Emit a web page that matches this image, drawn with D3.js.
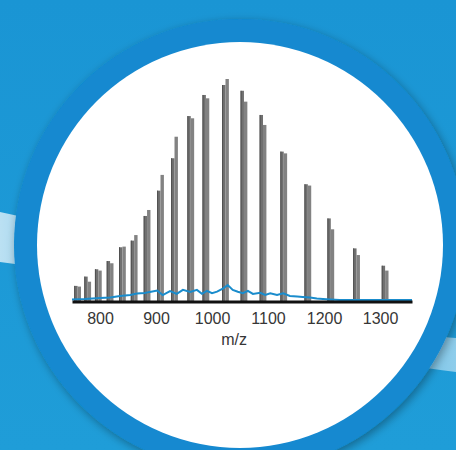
<!DOCTYPE html>
<html>
<head>
<meta charset="utf-8">
<script src="https://cdn.jsdelivr.net/npm/d3@7"></script>
<style>
  body { margin: 0; padding: 0; overflow: hidden; }
  #chart { width: 456px; height: 450px; }
</style>
</head>
<body>
<div id="chart"></div>
<script>
// peak m/z (centre of each pair) and the two sub-bar intensities (% of base peak)
var peakMz = [760, 778, 797, 818, 840, 861, 884, 908, 933, 962, 989, 1024, 1057, 1091, 1128, 1171, 1212, 1258, 1309]
var leftInt = [6.8, 11.0, 14.3, 18.0, 24.2, 27.2, 38.3, 49.7, 64.3, 83.3, 92.8, 97.3, 94.7, 83.8, 67.3, 52.6, 37.2, 23.7, 15.9]
var rightInt = [6.5, 8.7, 13.7, 17.0, 24.5, 29.7, 41.0, 56.8, 74.0, 82.3, 91.3, 100, 89.8, 79.3, 66.5, 52.0, 32.3, 20.7, 13.7]

// blue trace (m/z, intensity)
var traceMz = [750, 773, 800, 818, 836, 854, 866, 880, 889, 902, 912, 925, 937, 948, 961, 973, 982, 991, 1000, 1009, 1020, 1028, 1037, 1046, 1055, 1064, 1073, 1086, 1095, 1104, 1116, 1127, 1139, 1152, 1162, 1175, 1187, 1198, 1211, 1228, 1357]
var traceInt = [0.7, 0.9, 1.4, 1.6, 2.3, 2.7, 3.4, 3.6, 4.1, 4.7, 2.7, 4.5, 3.2, 5.0, 4.1, 5.0, 3.2, 4.6, 3.5, 4.2, 5.7, 7.2, 5.0, 4.2, 3.5, 4.6, 3.2, 3.7, 2.7, 3.5, 2.7, 3.5, 2.3, 2.0, 1.8, 1.6, 1.1, 0.9, 0.7, 0.5, 0.5]

var tickVals = [800, 900, 1000, 1100, 1200, 1300]

function drawChart() {
  var W = 456, H = 450
  var svg = d3.select("#chart").append("svg")
    .attr("width", W).attr("height", H)

  var defs = svg.append("defs")
  var bg = defs.append("linearGradient").attr("id", "bg")
    .attr("x1", 0).attr("y1", 0).attr("x2", 0).attr("y2", 1)
  bg.append("stop").attr("offset", "0%").attr("stop-color", "#1a95d4")
  bg.append("stop").attr("offset", "100%").attr("stop-color", "#1f9dd8")

  var streak = defs.append("linearGradient").attr("id", "streak")
    .attr("x1", 0).attr("y1", 0).attr("x2", 1).attr("y2", 0)
  streak.append("stop").attr("offset", "0%").attr("stop-color", "#ffffff").attr("stop-opacity", 0.7)
  streak.append("stop").attr("offset", "100%").attr("stop-color", "#ffffff").attr("stop-opacity", 0.3)

  var streak2 = defs.append("linearGradient").attr("id", "streak2")
    .attr("x1", 0).attr("y1", 0).attr("x2", 1).attr("y2", 0)
  streak2.append("stop").attr("offset", "0%").attr("stop-color", "#ffffff").attr("stop-opacity", 0.2)
  streak2.append("stop").attr("offset", "100%").attr("stop-color", "#ffffff").attr("stop-opacity", 0.5)

  var shadow = defs.append("filter").attr("id", "shadow")
    .attr("x", "-20%").attr("y", "-20%").attr("width", "140%").attr("height", "140%")
  shadow.append("feGaussianBlur").attr("in", "SourceAlpha").attr("stdDeviation", 5)
  shadow.append("feOffset").attr("dx", 2).attr("dy", 3).attr("result", "b")
  shadow.append("feComponentTransfer").append("feFuncA").attr("type", "linear").attr("slope", 0.35)
  var mg = shadow.append("feMerge")
  mg.append("feMergeNode")
  mg.append("feMergeNode").attr("in", "SourceGraphic")

  svg.append("rect").attr("width", W).attr("height", H).attr("fill", "url(#bg)")

  // light streaks behind the badge
  svg.append("path")
    .attr("d", "M0,212 C40,220 80,236 120,250 L120,292 C80,280 40,266 0,262 Z")
    .attr("fill", "url(#streak)")
  svg.append("path")
    .attr("d", "M330,318 C380,330 420,335 456,338 L456,372 C420,368 380,360 330,350 Z")
    .attr("fill", "url(#streak2)")

  var cx = 240, cy = 245, r = 203
  svg.append("circle").attr("cx", cx).attr("cy", cy).attr("r", r + 23)
    .attr("fill", "#1389d0").attr("filter", "url(#shadow)")
  svg.append("circle").attr("cx", cx).attr("cy", cy).attr("r", r)
    .attr("fill", "#ffffff")

  // scales
  var x = d3.scaleLinear().domain([750, 1357]).range([72, 412])
  var y = d3.scaleLinear().domain([0, 100]).range([301, 79])

  var subW = 3.4
  var bars = svg.append("g").attr("class", "bars")
  peakMz.forEach(function(mz, i) {
    var xc = x(mz)
    bars.append("rect")
      .attr("x", xc - subW).attr("y", y(leftInt[i]))
      .attr("width", subW).attr("height", y(0) - y(leftInt[i]))
      .attr("fill", "#707070")
    bars.append("rect")
      .attr("x", xc).attr("y", y(rightInt[i]))
      .attr("width", subW).attr("height", y(0) - y(rightInt[i]))
      .attr("fill", "#828282")
    bars.append("line")
      .attr("x1", xc - subW + 0.5).attr("x2", xc - subW + 0.5)
      .attr("y1", y(leftInt[i])).attr("y2", y(0))
      .attr("stroke", "#4f4f4f").attr("stroke-width", 1)
  })

  // blue trace
  var line = d3.line()
    .x(function(d, i) { return x(traceMz[i]) })
    .y(function(d) { return y(d) })
    .curve(d3.curveLinear)
  svg.append("path").datum(traceInt)
    .attr("d", line)
    .attr("fill", "none")
    .attr("stroke", "#1a8ccc")
    .attr("stroke-width", 2)

  // x axis
  var axis = d3.axisBottom(x).tickValues(tickVals).tickFormat(d3.format("d"))
    .tickSize(0).tickPadding(11)
  var ax = svg.append("g").attr("transform", "translate(0,301.5)").call(axis)
  ax.select(".domain").attr("stroke", "#111").attr("stroke-width", 3)
  ax.selectAll("text")
    .attr("font-family", "'Liberation Sans', Arial, sans-serif")
    .attr("font-size", 16)
    .attr("fill", "#363636")

  svg.append("text")
    .attr("x", x(1000) + 22).attr("y", 345)
    .attr("text-anchor", "middle")
    .attr("font-family", "'Liberation Sans', Arial, sans-serif")
    .attr("font-size", 16)
    .attr("fill", "#363636")
    .text("m/z")
}

drawChart()
</script>
</body>
</html>
